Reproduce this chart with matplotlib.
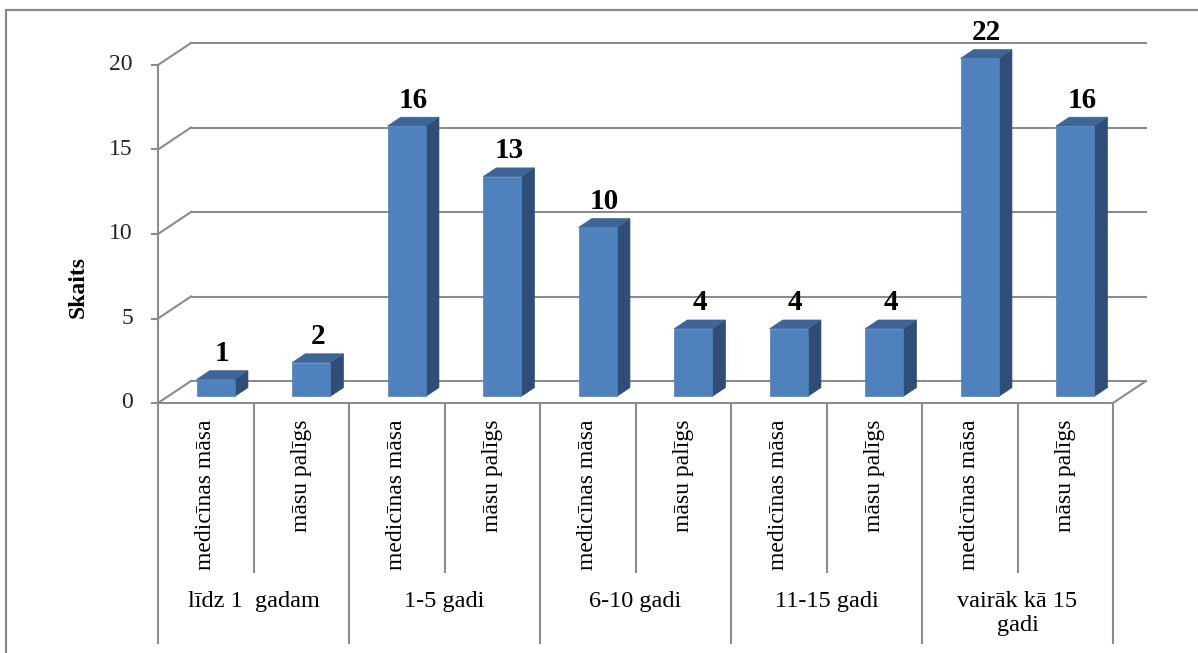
import numpy as np
import matplotlib
matplotlib.use('Agg')
import matplotlib.pyplot as plt
from matplotlib import transforms
from matplotlib.patches import Polygon, Rectangle

plt.rcParams['font.family'] = ['Liberation Serif', 'DejaVu Serif']

# data
groups = ['līdz 1  gadam', '1-5 gadi', '6-10 gadi', '11-15 gadi', 'vairāk kā 15\ngadi']
roles = ['medicīnas māsa', 'māsu palīgs']
values = [1, 2, 16, 13, 10, 4, 4, 4, 22, 16]
yticks = [0, 5, 10, 15, 20]
ymax = 20

W, H = 1198, 653
fig = plt.figure(figsize=(W / 100, H / 100), dpi=100)
# front plane of the 3d box in pixels: x 158..1113, y 403 (0) .. 65 (20)
ax = fig.add_axes([158 / W, (H - 403) / H, (1113 - 158) / W, (403 - 65) / H])
n = len(values)
ax.set_xlim(-0.5, n - 0.5)
ax.set_ylim(0, ymax)
ax.axis('off')

grid_c = '#8c8c8c'
front_c = '#4F81BD'
top_c = '#3D6597'
side_c = '#2F4E77'

# pixel offsets -> data offsets
px_x = (n) / (1113 - 158)
px_y = ymax / (403 - 65)
DX, DY = 33 * px_x, 22 * px_y   # full floor depth


def dep(x, y, d):
    return (x + d * DX, y + d * DY)


# outer border
fig.add_artist(Rectangle((6 / W, -0.1), 1.2, (H - 10) / H + 0.1, transform=fig.transFigure,
                         fill=False, ec='#8a8a8a', lw=1.6))

# walls / gridlines
x0, x1 = -0.5, n - 0.5
for t in yticks:
    a = dep(x0, t, 1)
    b = dep(x1, t, 1)
    ax.plot([x0, a[0]], [t, a[1]], color=grid_c, lw=1.5, clip_on=False, zorder=1)
    ax.plot([a[0], b[0]], [a[1], b[1]], color=grid_c, lw=1.5, clip_on=False, zorder=1)
# floor front and right edges
ax.plot([x0, x1], [0, 0], color=grid_c, lw=1.5, clip_on=False, zorder=1)
r = dep(x1, 0, 1)
ax.plot([x1, r[0]], [0, r[1]], color=grid_c, lw=1.5, clip_on=False, zorder=1)

# y axis ticks
for t in yticks:
    ax.plot([x0 - 6 * px_x, x0], [t, t], color=grid_c, lw=1.5, clip_on=False)
    ax.text(x0 - 25 * px_x, t, str(t), ha='right', va='center', fontsize=17, color='#222222')

# table below the axis
bt = transforms.blended_transform_factory(ax.transData, fig.transFigure)
for k in range(n + 1):
    xk = -0.5 + k
    ybot = 10 / H if k % 2 == 0 else (H - 572) / H
    ax.plot([xk, xk], [(H - 65) / H if k == 0 else (H - 403) / H, ybot], color=grid_c, lw=1.5,
            transform=bt, clip_on=False)
for i in range(n):
    ax.text(i, (H - 419) / H, roles[i % 2], rotation=90, ha='center', va='top',
            fontsize=17, transform=bt)
for g, name in enumerate(groups):
    ax.text(2 * g + 0.5, (H - 591) / H, name, ha='center', va='top', fontsize=17.5,
            transform=bt, multialignment='center', linespacing=1.2)

# bars
bw = 0.4
d0, d1 = 0.3, 0.7
for i, v in enumerate(values):
    h = min(v, ymax)
    l, rr = i - bw / 2, i + bw / 2
    front = [dep(l, 0, d0), dep(rr, 0, d0), dep(rr, h, d0), dep(l, h, d0)]
    top = [dep(l, h, d0), dep(rr, h, d0), dep(rr, h, d1), dep(l, h, d1)]
    side = [dep(rr, 0, d0), dep(rr, 0, d1), dep(rr, h, d1), dep(rr, h, d0)]
    for pts, c in [(side, side_c), (top, top_c), (front, front_c)]:
        ax.add_patch(Polygon(pts, closed=True, fc=c, ec=c, lw=0.5, clip_on=False, zorder=3))
    lx, ly = dep(i, h, 0.5)
    ax.text(lx, ly + 8 * px_y, str(v), ha='center', va='bottom', fontsize=21,
            fontweight='bold', zorder=5)

fig.text(78 / W, (H - 287) / H, 'Skaits', rotation=90, ha='center', va='center',
         fontsize=17, fontweight='bold')

fig.savefig('out.png', dpi=100)
